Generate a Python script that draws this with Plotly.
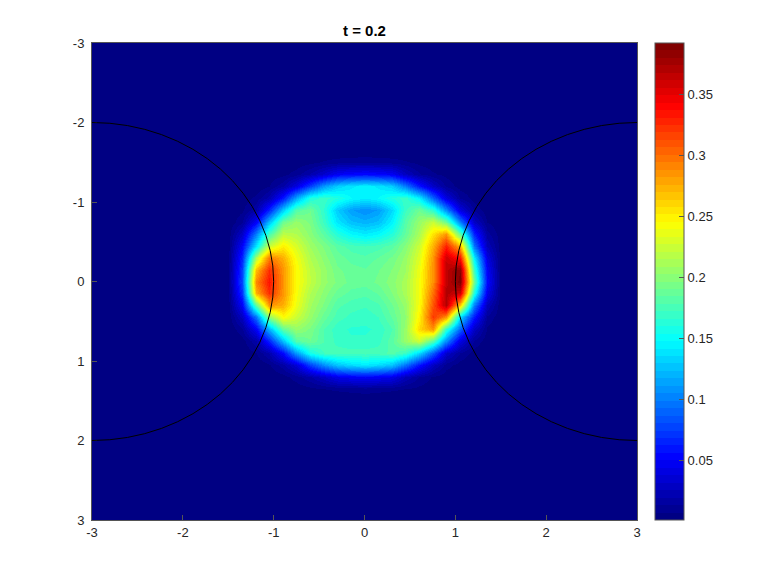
import plotly.graph_objects as go

# grid of the bright part, the rest of the domain sits at the floor value
x_inner = [-1.5, -1.35, -1.2, -1.05, -0.9, -0.75, -0.6, -0.45, -0.3, -0.15, 0,
           0.15, 0.3, 0.45, 0.6, 0.75, 0.9, 1.05, 1.2, 1.35, 1.5]
y_inner = list(x_inner)
floor = 0.001

density = [
    [.001, .001, .001, .001, .002, .003, .005, .008, .010, .011, .012, .011, .010, .008, .005, .003, .002, .001, .001, .001, .001],
    [.001, .001, .001, .003, .005, .010, .020, .033, .048, .053, .055, .053, .048, .028, .014, .008, .005, .002, .001, .001, .001],
    [.001, .001, .002, .007, .018, .040, .075, .110, .130, .140, .145, .140, .130, .100, .060, .030, .012, .004, .002, .001, .001],
    [.001, .003, .009, .022, .060, .115, .160, .170, .160, .148, .142, .148, .160, .170, .145, .090, .040, .013, .004, .001, .001],
    [.002, .006, .018, .065, .130, .180, .190, .165, .130, .112, .105, .112, .135, .170, .190, .165, .105, .040, .012, .003, .001],
    [.002, .012, .050, .125, .190, .205, .195, .170, .140, .125, .120, .125, .145, .180, .205, .225, .190, .100, .030, .007, .002],
    [.003, .030, .100, .175, .220, .215, .200, .182, .162, .148, .142, .148, .162, .185, .212, .255, .285, .185, .065, .016, .003],
    [.003, .050, .140, .225, .250, .230, .208, .195, .182, .175, .172, .175, .182, .198, .225, .275, .330, .275, .095, .025, .003],
    [.004, .065, .215, .295, .275, .240, .215, .200, .188, .182, .180, .185, .192, .205, .232, .285, .360, .335, .145, .040, .003],
    [.004, .075, .270, .325, .285, .245, .220, .205, .192, .187, .185, .190, .197, .208, .238, .288, .365, .385, .170, .050, .003],
    [.004, .080, .290, .335, .285, .245, .222, .205, .195, .188, .187, .192, .200, .212, .240, .288, .365, .390, .190, .055, .003],
    [.004, .070, .275, .325, .285, .242, .215, .200, .188, .182, .180, .185, .197, .212, .240, .300, .370, .360, .160, .045, .003],
    [.003, .050, .185, .285, .275, .238, .210, .195, .180, .175, .173, .177, .190, .205, .242, .310, .370, .265, .100, .025, .002],
    [.002, .028, .095, .200, .245, .225, .205, .187, .175, .170, .168, .172, .185, .202, .248, .320, .285, .135, .060, .012, .002],
    [.001, .012, .050, .120, .185, .205, .195, .178, .168, .165, .165, .167, .178, .205, .258, .285, .165, .090, .030, .006, .001],
    [.001, .004, .018, .065, .125, .180, .190, .178, .170, .167, .167, .170, .182, .205, .225, .180, .105, .040, .012, .003, .001],
    [.001, .002, .007, .020, .055, .110, .155, .172, .175, .175, .175, .175, .180, .170, .135, .085, .032, .013, .004, .001, .001],
    [.001, .001, .002, .006, .017, .035, .075, .105, .125, .135, .140, .135, .125, .095, .058, .028, .010, .004, .001, .001, .001],
    [.001, .001, .001, .002, .004, .010, .018, .030, .043, .048, .050, .048, .043, .025, .013, .006, .003, .001, .001, .001, .001],
    [.001, .001, .001, .001, .002, .003, .005, .007, .008, .009, .010, .009, .008, .007, .005, .003, .002, .001, .001, .001, .001],
    [.001, .001, .001, .001, .001, .001, .001, .002, .002, .002, .002, .002, .002, .002, .001, .001, .001, .001, .001, .001, .001],
]

axis_ticks = [-3, -2, -1, 0, 1, 2, 3]
axis_labels = ["-3", "-2", "-1", "0", "1", "2", "3"]
cbar_ticks = [0.05, 0.1, 0.15, 0.2, 0.25, 0.3, 0.35]
cbar_labels = ["0.05", "0.1", "0.15", "0.2", "0.25", "0.3", "0.35"]
circle_centers = [-3, 3]
circle_radius = 2

jet_stops = [(0.0, (0, 0, 131)), (0.125, (0, 0, 255)), (0.375, (0, 255, 255)),
             (0.625, (255, 255, 0)), (0.875, (255, 0, 0)), (1.0, (128, 0, 0))]


def jet_color(f):
    for (f0, c0), (f1, c1) in zip(jet_stops, jet_stops[1:]):
        if f <= f1:
            t = (f - f0) / (f1 - f0)
            return "rgb(%d,%d,%d)" % tuple(round(a + (b - a) * t) for a, b in zip(c0, c1))
    return "rgb(128,0,0)"


# the colormap has 64 flat levels, so the colorbar shows bands
levels = 64
jet = []
for i in range(levels):
    col = jet_color(i / (levels - 1))
    jet.append([i / levels, col])
    jet.append([(i + 1) / levels, col])

# pad the grid out to the edges of the domain, with a floor ring right next to it
x_full = [-3, -1.65] + x_inner + [1.65, 3]
y_full = [-3, -1.65] + y_inner + [1.65, 3]
blank = [floor] * len(x_full)
z_full = [blank, blank] + [[floor, floor] + row + [floor, floor] for row in density] + [blank, blank]

TEXT = "#262626"
LINE = "#555555"

fig = go.Figure()
fig.add_trace(go.Heatmap(
    x=x_full, y=y_full, z=z_full,
    zmin=0.001, zmax=0.392,
    zsmooth="best",
    colorscale=jet,
    colorbar=dict(
        x=1.033, xanchor="left", xpad=0,
        y=0.5, yanchor="middle", ypad=0,
        thickness=29, thicknessmode="pixels",
        len=1, lenmode="fraction",
        tickmode="array", tickvals=cbar_ticks, ticktext=cbar_labels,
        ticks="inside", ticklen=5, tickwidth=1, tickcolor=LINE,
        outlinecolor=LINE, outlinewidth=1,
        tickfont=dict(family="Liberation Sans", size=13, color=TEXT),
    ),
))

for c in circle_centers:
    fig.add_shape(type="circle", xref="x", yref="y",
                  x0=c - circle_radius, x1=c + circle_radius,
                  y0=-circle_radius, y1=circle_radius,
                  line=dict(color="black", width=1), layer="above")

axis_style = dict(
    tickmode="array", tickvals=axis_ticks, ticktext=axis_labels,
    ticks="inside", ticklen=5, tickwidth=1, tickcolor=LINE,
    showline=True, linecolor=LINE, linewidth=1, mirror=True,
    showgrid=False, zeroline=False,
    tickfont=dict(family="Liberation Sans", size=13, color=TEXT),
)

# the page adds a small body margin, so the figure is a bit under the window size
fig.update_layout(
    width=770, height=576, autosize=False,
    margin=dict(l=84, r=141, t=35, b=64),
    paper_bgcolor="white", plot_bgcolor="white",
    title=dict(text="<b>t = 0.2</b>", x=0.5, xanchor="center", xref="paper",
               y=0.96, yanchor="middle", yref="container",
               font=dict(family="Liberation Sans", size=15, color="black")),
    xaxis=dict(range=[-3, 3], **axis_style),
    yaxis=dict(range=[3, -3], ticklabelstandoff=4, **axis_style),
)

fig.write_html("out.html")
